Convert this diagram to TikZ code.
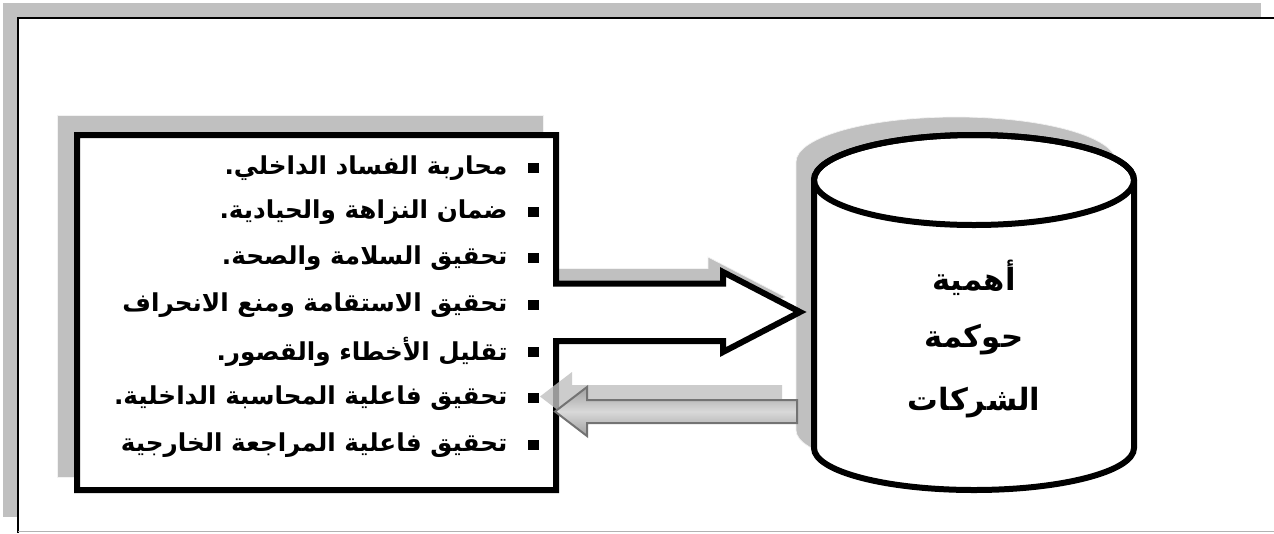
\documentclass[tikz,border=0pt]{standalone}
\usepackage{fontspec}
\newfontfamily\arabicfont[Script=Arabic]{DejaVu Sans}
\TeXXeTstate=1
\definecolor{shadegray}{RGB}{192,192,192}
\tikzset{every picture/.style={line width=0.75pt}}
\tikzset{
  item/.style={anchor=east, inner sep=0pt, font=\arabicfont\bfseries\fontsize{18.5}{22}\selectfont},
  title/.style={inner sep=0pt, font=\arabicfont\bfseries\fontsize{23}{26}\selectfont},
  bullet/.style={fill=black, minimum size=8pt, inner sep=0pt},
  shadow/.style={fill=shadegray, draw=white!90!gray, line width=0.5pt}
}

\begin{document}
\begin{tikzpicture}[x=0.75pt,y=0.75pt,yscale=-1,xscale=1]
\useasboundingbox (0,0) rectangle (1274,533);

%Shape: Rectangle [frame shadow]
\fill [shadegray] (3,3) rectangle (1261,517);
%Shape: Rectangle [frame]
\fill [white] (18,18) rectangle (1274,531);
\draw [line width=1.5pt] (1274,18) -- (18,18) -- (18,533);
\draw [color=gray!60] (18,531.5) -- (1274,531.5);

%Shape: Rectangle [list shadow]
\draw [shadow] (57,115) rectangle (543,477);
%Shape: Can [can shadow]
\draw [shadow] (796,162) -- (796,430) arc [start angle=180, end angle=0, x radius=160, y radius=42] -- (1116,162) arc [start angle=0, end angle=-180, x radius=160, y radius=45] -- cycle;
%Shape: Right Arrow [arrow shadow]
\draw [shadow] (541,268.5) -- (708,268.5) -- (708,257) -- (785,297) -- (708,337) -- (708,326) -- (541,326) -- cycle;

%Shape: Rectangle + Right Arrow
\draw [line width=4.5pt, fill=white, miter limit=10] (77,135) -- (556,135) -- (556,283.5) -- (723,283.5) -- (723,272) -- (800,312) -- (723,352) -- (723,341) -- (556,341) -- (556,490) -- (77,490) -- cycle;

%Shape: Can
\draw [line width=4.5pt, fill=white] (814,180) -- (814,448) arc [start angle=180, end angle=0, x radius=160, y radius=42] -- (1134,180) arc [start angle=0, end angle=-180, x radius=160, y radius=45] -- cycle;
\draw [line width=4.5pt] (974,180) ellipse [x radius=160, y radius=45];

%Shape: Left Arrow [shadow]
\fill [shadegray, fill opacity=0.8] (540,396.5) -- (572,372) -- (572,385) -- (782,385) -- (782,408) -- (572,408) -- (572,421) -- cycle;
%Shape: Left Arrow
\draw [color=gray!90!black, line width=1.5pt, top color=gray!75, bottom color=gray!75, middle color=gray!30] (555,411.5) -- (587,387) -- (587,400) -- (797,400) -- (797,423) -- (587,423) -- (587,436) -- cycle;

% Bullets
\node (b1) [bullet] at (533.5,168) {};
\node (b2) [bullet] at (533.5,212) {};
\node (b3) [bullet] at (533.5,258) {};
\node (b4) [bullet] at (533.5,305) {};
\node (b5) [bullet] at (533.5,352) {};
\node (b6) [bullet] at (533.5,398) {};
\node (b7) [bullet] at (533.5,445) {};

% Text Node
\node (l1) [item] at (508,168) {\beginR محاربة الفساد الداخلي.\endR};
% Text Node
\node (l2) [item] at (508,212) {\beginR ضمان النزاهة والحيادية.\endR};
% Text Node
\node (l3) [item] at (508,258) {\beginR تحقيق السلامة والصحة.\endR};
% Text Node
\node (l4) [item] at (508,305) {\beginR تحقيق الاستقامة ومنع الانحراف\endR};
% Text Node
\node (l5) [item] at (508,352) {\beginR تقليل الأخطاء والقصور.\endR};
% Text Node
\node (l6) [item] at (508,398) {\beginR تحقيق فاعلية المحاسبة الداخلية.\endR};
% Text Node
\node (l7) [item] at (508,445) {\beginR تحقيق فاعلية المراجعة الخارجية\endR};

% Text Node
\node (t1) [title] at (974,278) {\beginR أهمية\endR};
% Text Node
\node (t2) [title] at (974,340) {\beginR حوكمة\endR};
% Text Node
\node (t3) [title] at (974,403) {\beginR الشركات\endR};

\end{tikzpicture}
\end{document}
